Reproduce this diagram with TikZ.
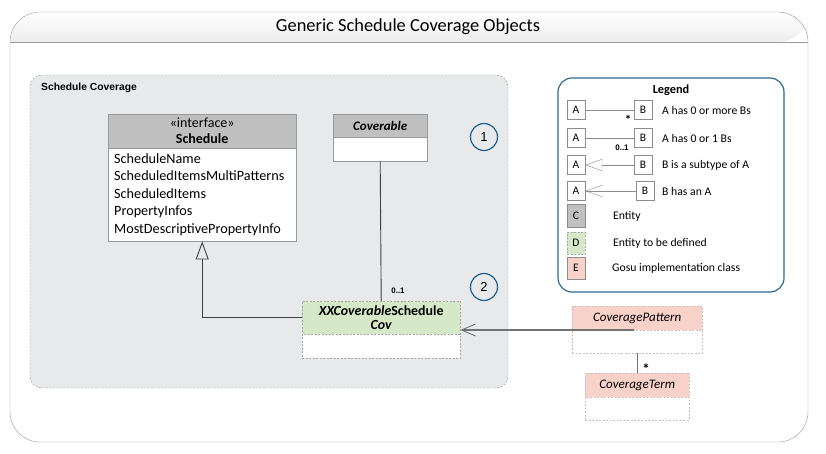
\documentclass[tikz,border=0pt]{standalone}
\usepackage{fontspec}
\setmainfont{Carlito}
\newfontfamily\arialfont{Liberation Sans}
\usepackage{tikz}
\usetikzlibrary{positioning}
\usetikzlibrary{arrows.meta}
\definecolor{entgray}{HTML}{C0C0C0}
\definecolor{tbdgreen}{HTML}{D5E8C8}
\definecolor{gosupink}{HTML}{F8D2C9}
\definecolor{panelgray}{HTML}{E8E9EB}
\definecolor{legblue}{HTML}{2C6A96}
\definecolor{circblue}{HTML}{1F5F8B}
\newcommand{\fs}[1]{\fontsize{#1}{#1}\selectfont}
\newcommand{\legbox}[4]{\node[lbox] (#1) at ( #2 , #3 ) {#4};}

\begin{document}
\begin{tikzpicture}[x=1pt, y=-1pt,
    hdr/.style={draw=black!40, anchor=north west, inner sep=0pt, align=center},
    body/.style={draw=black!40, fill=white, anchor=north west, inner sep=0pt},
    tbd/.style={draw=black!35, dash pattern=on 2pt off 1.5pt},
    gosu/.style={draw=gosupink!70!black!60, dash pattern=on 2pt off 1.5pt},
    lbox/.style={draw=black!45, fill=white, minimum width=18pt, minimum height=19pt, inner sep=0pt, font=\fs{11.5}},
    ltext/.style={anchor=west, inner sep=0pt, font=\fs{11.7}},
    num/.style={circle, draw=circblue, line width=1.2pt, minimum size=27pt, inner sep=0pt, font=\arialfont\fs{13}},
    mult/.style={inner sep=0pt, font=\arialfont\bfseries\fs{8}}]
    \useasboundingbox (0,0) rectangle (826,454);
    % outer frame
    \shade[top color=white, bottom color=black!7, rounded corners=30]
        (10,42) -- (10,12) -- (808,12) -- (808,42) [sharp corners] -- cycle;
    \draw[black!40, rounded corners=30] (10,442) rectangle (808,12);
    \draw[black!40] (10,42) -- (808,42);
    \node[inner sep=0pt, font=\fs{18.4}] (title) at (408,27) {Generic Schedule Coverage Objects};
    % schedule coverage panel
    \draw[black!45, fill=panelgray, dash pattern=on 2pt off 1.5pt, rounded corners=12] (30,75) rectangle (508,388);
    \node[anchor=west, inner sep=0pt, font=\arialfont\bfseries\fs{10.3}] (panel) at (41,88) {Schedule Coverage};
    % schedule
    \node[hdr, fill=entgray, minimum width=188pt, minimum height=34pt, font=\fs{14}] (sched) at (108,114)
        {«interface»\\[2pt] \textbf{Schedule}};
    \node[body, minimum width=188pt, minimum height=93pt, text width=176pt, inner xsep=6pt, align=left, font=\fontsize{14.2}{17.5}\selectfont] (sched-b) at (108,148)
        {ScheduleName\\ ScheduledItemsMultiPatterns\\ ScheduledItems\\ PropertyInfos\\ MostDescriptivePropertyInfo};
    % coverable
    \node[hdr, fill=entgray, minimum width=94pt, minimum height=23pt, font=\bfseries\itshape\fs{13}] (cov) at (333,114) {Coverable};
    \node[body, minimum width=94pt, minimum height=24pt] (cov-b) at (333,137) {};
    % xx coverable schedule cov
    \node[hdr, tbd, fill=tbdgreen, minimum width=158pt, minimum height=33pt, font=\bfseries\fs{13.9}] (xx) at (302,301)
        {\textit{XXCoverable}Schedule\\[0pt] \textit{Cov}};
    \node[body, tbd, minimum width=158pt, minimum height=24pt] (xx-b) at (302,334) {};
    % coverage pattern / term
    \node[hdr, gosu, fill=gosupink, minimum width=130pt, minimum height=24pt, font=\itshape\fs{13}] (pat) at (572,306) {CoveragePattern};
    \node[body, gosu, minimum width=130pt, minimum height=23pt] (pat-b) at (572,330) {};
    \node[hdr, gosu, fill=gosupink, minimum width=104pt, minimum height=24pt, font=\itshape\fs{13}] (term) at (585,373) {CoverageTerm};
    \node[body, gosu, minimum width=104pt, minimum height=23pt] (term-b) at (585,397) {};
    % numbers
    \node[num] (n1) at (484,137) {1};
    \node[num] (n2) at (484,287) {2};
    % connectors
    \draw[black!75, line width=0.9pt] (cov-b.south) -- (xx.north);
    \node[mult] (m1) at (398,291) {0..1};
    \draw[black!75, line width=0.9pt, -{Triangle[open, length=18pt, width=13pt]}] (xx.west) -| (sched-b.south);
    \coordinate (pat-in) at (634,330);
    \draw[black!55, line width=1.3pt, -{Straight Barb[length=14pt, width=12pt, line width=0.9pt]}] (pat-in) -- (pat-in -| xx.east);
    \draw[black!55, line width=0.7pt] (pat-b.south) -- (term.north);
    \node[inner sep=0pt, font=\bfseries\fs{15}] (star) at (646,369) {*};
    % legend
    \draw[legblue, line width=1.2pt, rounded corners=14] (558,78) rectangle (784,292);
    \node[inner sep=0pt, font=\bfseries\fs{12.3}] (legend) at (671,90) {Legend};
    % row 1
    \legbox{a1}{576}{110}{A}
    \legbox{b1}{643}{110}{B}
    \draw[black!45] (a1) -- (b1);
    \node[inner sep=0pt, font=\bfseries\fs{13}] (s1) at (628,120) {*};
    \node[ltext] (t1) at (662,110) {A has 0 or more Bs};
    % row 2
    \legbox{a2}{576}{138}{A}
    \legbox{b2}{643}{138}{B}
    \draw[black!45] (a2) -- (b2);
    \node[mult] (s2) at (622,148) {0..1};
    \node[ltext] (t2) at (662,138) {A has 0 or 1 Bs};
    % row 3
    \legbox{a3}{576}{165}{A}
    \legbox{b3}{643}{165}{B}
    \draw[black!45, -{Triangle[open, length=17pt, width=12pt]}] (b3) -- (a3);
    \node[ltext] (t3) at (662,165) {B is a subtype of A};
    % row 4
    \legbox{a4}{576}{191}{A}
    \legbox{b4}{645}{191}{B}
    \draw[black!45, -{Straight Barb[length=17pt, width=12pt]}] (b4) -- (a4);
    \node[ltext] (t4) at (662,191) {B has an A};
    % row 5
    \node[lbox, fill=entgray, minimum height=23pt] (c5) at (576,216) {C};
    \node[ltext] (t5) at (613,216) {Entity};
    % row 6
    \node[lbox, tbd, fill=tbdgreen, minimum height=22pt] (d6) at (576,243) {D};
    \node[ltext] (t6) at (613,243) {Entity to be defined};
    % row 7
    \node[lbox, fill=gosupink, minimum height=22pt] (e7) at (576,268) {E};
    \node[ltext] (t7) at (612,268) {Gosu implementation class};
\end{tikzpicture}
\end{document}
